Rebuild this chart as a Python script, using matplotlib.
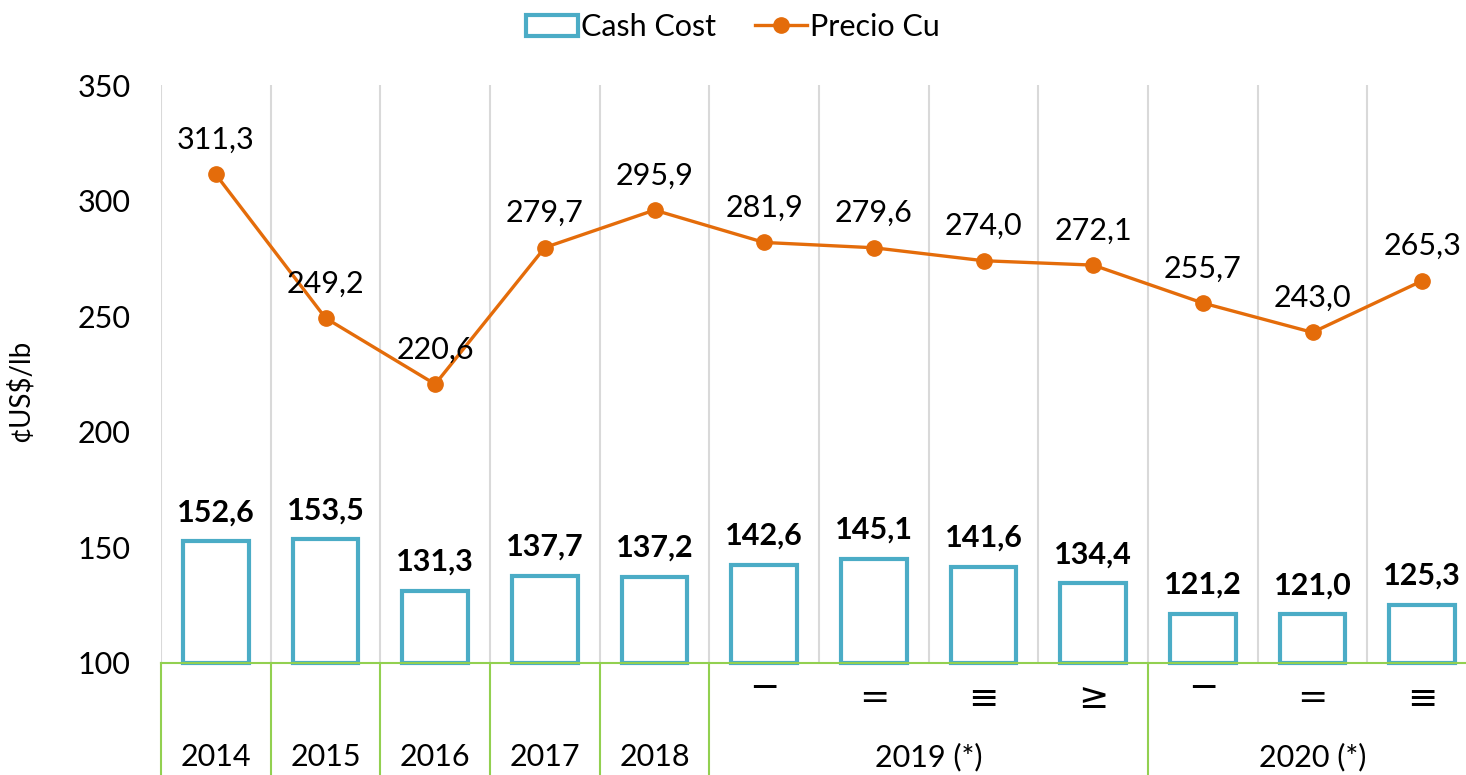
import matplotlib
matplotlib.use("Agg")
import matplotlib.pyplot as plt
from matplotlib.patches import Patch
from matplotlib.lines import Line2D
import matplotlib.transforms as mtransforms
import numpy as np

plt.rcParams['font.family'] = ['Lato', 'DejaVu Sans']

quarter_labels = ["", "", "", "", "", "−", "=", "≡", "≥", "−", "=", "≡"]
year_groups = ["2014", "2015", "2016", "2017", "2018", "2019 (*)", "2020 (*)"]
group_sizes = [1, 1, 1, 1, 1, 4, 3]
cash_cost = [152.6, 153.5, 131.3, 137.7, 137.2, 142.6, 145.1, 141.6, 134.4, 121.2, 121.0, 125.3]
precio_cu = [311.3, 249.2, 220.6, 279.7, 295.9, 281.9, 279.6, 274.0, 272.1, 255.7, 243.0, 265.3]
yticks = [100, 150, 200, 250, 300, 350]

TEAL = "#4BACC6"
ORANGE = "#E46C0A"
GREEN = "#92D050"
GRID = "#D9D9D9"

fig = plt.figure(figsize=(14.66, 7.75), dpi=100)
ax = fig.add_axes([161/1466, 1-663/775, (1477-161)/1466, (663-85)/775])

n = len(cash_cost)
x = np.arange(n)
ymin, ymax = 100, 350
ax.set_xlim(-0.5, n-0.5)
ax.set_ylim(ymin, ymax)

# vertical gridlines at category boundaries
for b in np.arange(-0.5, n, 1.0):
    ax.axvline(b, color=GRID, lw=1.5, zorder=0)

heights = [v - ymin for v in cash_cost]
ax.bar(x, heights, bottom=ymin, width=0.6, facecolor="white", edgecolor=TEAL,
       linewidth=3, zorder=2, clip_on=False)
ax.plot(x, precio_cu, color=ORANGE, lw=2.4, marker='o', markersize=11,
        zorder=4)

for xi, v in zip(x, cash_cost):
    ax.annotate(f"{v:.1f}".replace('.', ','), (xi, v), xytext=(0, 21),
                textcoords='offset points', ha='center', va='center',
                fontsize=22, fontweight='bold', color='black', zorder=5)
for xi, v in zip(x, precio_cu):
    ax.annotate(f"{v:.1f}".replace('.', ','), (xi, v), xytext=(0, 25),
                textcoords='offset points', ha='center', va='center',
                fontsize=22, color='black', zorder=5)

ax.set_yticks(yticks)
ax.set_yticklabels([str(t) for t in yticks], fontsize=22)
ax.tick_params(axis='y', length=0, pad=22)
ax.set_xticks([])
for s in ['top', 'right', 'left']:
    ax.spines[s].set_visible(False)
ax.spines['bottom'].set_color(GREEN)
ax.spines['bottom'].set_linewidth(1.5)
ax.spines['bottom'].set_zorder(3)

ax.set_ylabel("¢US$/lb", fontsize=20)
ax.yaxis.set_label_coords(-0.097, 0.47)

# multi-level category axis
trans = mtransforms.blended_transform_factory(ax.transData, ax.transAxes)
ybottom = -(775-663)/578
for xi, q in zip(x, quarter_labels):
    if q:
        yq = -(688-663)/578 if q == "−" else -(698-663)/578
        ax.text(xi, yq, q, transform=trans, ha='center', va='center',
                fontsize=26, family=['DejaVu Sans'])
start = 0
for g, size in zip(year_groups, group_sizes):
    center = start + (size-1)/2
    ax.text(center, -(757-663)/578, g, transform=trans, ha='center',
            va='center', fontsize=22)
    ax.plot([start-0.5, start-0.5], [0, ybottom], transform=trans,
            color=GREEN, lw=1.5, clip_on=False)
    start += size
ax.plot([start-0.5, start-0.5], [0, ybottom], transform=trans,
        color=GREEN, lw=1.5, clip_on=False)

handles = [Patch(facecolor='white', edgecolor=TEAL, linewidth=3, label='Cash Cost'),
           Line2D([0], [0], color=ORANGE, lw=2.4, marker='o', markersize=11, label='Precio Cu')]
fig.legend(handles=handles, loc='center', bbox_to_anchor=(0.5, 1-27/775), ncol=2,
           frameon=False, fontsize=22, handlelength=1.7, handletextpad=0.1,
           columnspacing=1.3)

fig.savefig("out.png", dpi=100)
